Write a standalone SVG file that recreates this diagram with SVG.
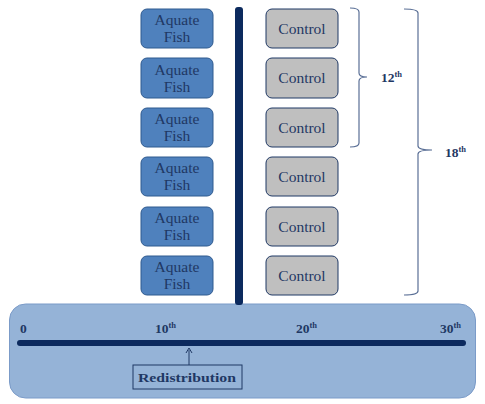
<svg xmlns="http://www.w3.org/2000/svg" width="485" height="404" viewBox="0 0 485 404">
<style>
.fish rect{fill:#4f81bd;stroke:#2f5a8f;stroke-width:1}
.ctrl rect{fill:#bfbfbf;stroke:#1f3864;stroke-width:1}
text{font-family:"Liberation Serif","DejaVu Serif",serif;fill:#1f3864}
.nt{font-size:15.5px;text-anchor:middle}
.b{font-weight:bold;font-size:13.5px}
.br{fill:none;stroke:#5a6f96;stroke-width:1.2}
</style>
<g id="panel"><rect x="9.5" y="304" width="466" height="94" rx="16" fill="#95b3d7" stroke="#7b9bc8" stroke-width="1"/></g>
<g id="connectors">
<rect x="235" y="7" width="8" height="298" rx="3" fill="#0c2a5e"/>
<line x1="20" y1="343" x2="463" y2="343" stroke="#0c2a5e" stroke-width="6" stroke-linecap="round"/>
<line x1="189" y1="365" x2="189" y2="350" stroke="#1f3864" stroke-width="1"/>
<path d="M186 353 L189 348 L192 353" fill="none" stroke="#1f3864" stroke-width="1"/>
<path class="br" d="M350 8 Q359 8 359 12 L359 73 Q359 77 367 77 Q359 77 359 81 L359 143 Q359 147 350 147"/>
<path class="br" d="M404 9 Q418 9 418 13 L418 146 Q418 150 432 150 Q418 150 418 154 L418 291 Q418 295 404 295"/>
</g>
<g id="fish1" class="fish"><rect x="141" y="9" width="72" height="39" rx="6"/><text class="nt" x="177" y="25">Aquate</text><text class="nt" x="177" y="42">Fish</text></g>
<g id="fish2" class="fish"><rect x="141" y="58" width="72" height="40" rx="6"/><text class="nt" x="177" y="75">Aquate</text><text class="nt" x="177" y="92">Fish</text></g>
<g id="fish3" class="fish"><rect x="141" y="108" width="72" height="39" rx="6"/><text class="nt" x="177" y="124">Aquate</text><text class="nt" x="177" y="141">Fish</text></g>
<g id="fish4" class="fish"><rect x="141" y="157" width="72" height="39" rx="6"/><text class="nt" x="177" y="173">Aquate</text><text class="nt" x="177" y="190">Fish</text></g>
<g id="fish5" class="fish"><rect x="141" y="207" width="72" height="39" rx="6"/><text class="nt" x="177" y="223">Aquate</text><text class="nt" x="177" y="240">Fish</text></g>
<g id="fish6" class="fish"><rect x="141" y="256" width="72" height="39" rx="6"/><text class="nt" x="177" y="272">Aquate</text><text class="nt" x="177" y="289">Fish</text></g>
<g id="ctrl1" class="ctrl"><rect x="266" y="9" width="72" height="39" rx="6"/><text class="nt" x="302" y="34">Control</text></g>
<g id="ctrl2" class="ctrl"><rect x="266" y="58" width="72" height="40" rx="6"/><text class="nt" x="302" y="83">Control</text></g>
<g id="ctrl3" class="ctrl"><rect x="266" y="108" width="72" height="39" rx="6"/><text class="nt" x="302" y="133">Control</text></g>
<g id="ctrl4" class="ctrl"><rect x="266" y="157" width="72" height="39" rx="6"/><text class="nt" x="302" y="182">Control</text></g>
<g id="ctrl5" class="ctrl"><rect x="266" y="207" width="72" height="39" rx="6"/><text class="nt" x="302" y="232">Control</text></g>
<g id="ctrl6" class="ctrl"><rect x="266" y="256" width="72" height="39" rx="6"/><text class="nt" x="302" y="281">Control</text></g>
<g id="labels">
<text class="b" x="381" y="82">12<tspan font-size="8.5" dy="-5">th</tspan></text>
<text class="b" x="445" y="157">18<tspan font-size="8.5" dy="-5">th</tspan></text>
<text class="b" x="20" y="333">0</text>
<text class="b" x="155" y="333">10<tspan font-size="8.5" dy="-5">th</tspan></text>
<text class="b" x="296" y="333">20<tspan font-size="8.5" dy="-5">th</tspan></text>
<text class="b" x="440" y="333">30<tspan font-size="8.5" dy="-5">th</tspan></text>
</g>
<g id="redistribution"><rect x="133" y="365" width="109" height="24" fill="none" stroke="#1f3864" stroke-width="1"/><text class="b" x="138" y="382" font-size="15" textLength="98" lengthAdjust="spacingAndGlyphs">Redistribution</text></g>
</svg>
